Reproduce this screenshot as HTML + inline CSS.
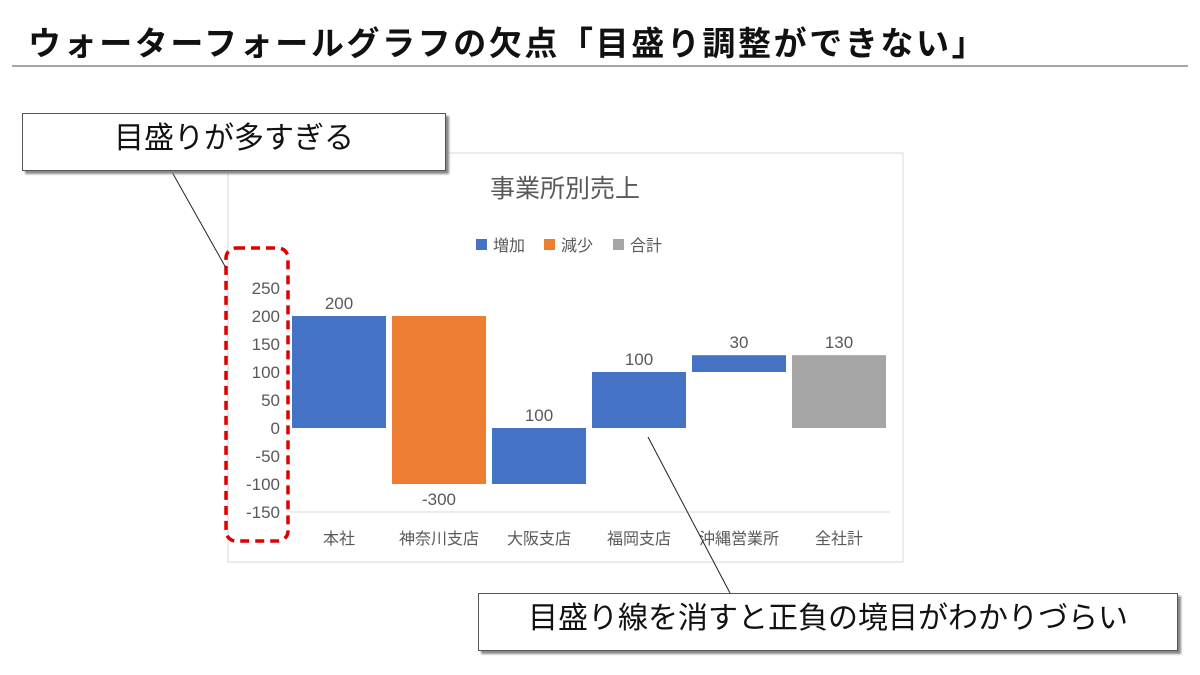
<!DOCTYPE html>
<html><head><meta charset="utf-8"><style>
body{margin:0;width:1200px;height:675px;background:#fff;overflow:hidden;font-family:"Liberation Sans","Noto Sans CJK JP",sans-serif;position:relative}
.h{position:absolute;left:28px;top:17px;font-size:33px;font-weight:bold;color:#111;white-space:nowrap;letter-spacing:2.6px}
.rule{position:absolute;left:12px;top:65px;width:1176px;height:2px;background:#a6a6a6}
.box{position:absolute;background:#fff;border:1px solid #555;box-shadow:3px 3px 2px #888;font-size:30px;color:#111;text-align:center}
</style></head><body>
<div class="h">ウォーターフォールグラフの欠点「目盛り調整ができない」</div>
<div class="rule"></div>
<svg width="1200" height="675" style="position:absolute;left:0;top:0">
<rect x="228" y="153" width="675" height="409" fill="#fff" stroke="#d9d9d9"/>
<text x="565" y="197" font-size="25" fill="#595959" text-anchor="middle">事業所別売上</text>
<g font-size="16" fill="#595959">
<rect x="476" y="239" width="11" height="11" fill="#4472c4"/><text x="493" y="251">増加</text>
<rect x="544" y="239" width="11" height="11" fill="#ed7d31"/><text x="561" y="251">減少</text>
<rect x="613" y="239" width="11" height="11" fill="#a5a5a5"/><text x="630" y="251">合計</text>
</g>
<g id="plot"></g>
<rect x="226" y="248" width="62" height="293" rx="10" fill="none" stroke="#d00" stroke-width="3.5" stroke-dasharray="9,6"/>
<line x1="172" y1="172" x2="226" y2="268" stroke="#222"/>
<line x1="648" y1="437" x2="730" y2="593" stroke="#222"/>
</svg>
<div class="box" style="left:22px;top:113px;width:422px;height:56px;line-height:50px">目盛りが多すぎる</div>
<div class="box" style="left:478px;top:593px;width:698px;height:56px;line-height:50px">目盛り線を消すと正負の境目がわかりづらい</div>
<script>
const categories=["本社","神奈川支店","大阪支店","福岡支店","沖縄営業所","全社計"];
const deltas=[200,-300,100,100,30,130];
const isTotal=[false,false,false,false,false,true];
const ticks=[250,200,150,100,50,0,-50,-100,-150];
const NS="http://www.w3.org/2000/svg";
const g=document.getElementById("plot");
const y=v=>428-v*0.56;
const x0=290,cw=100;
function mk(t,a){const e=document.createElementNS(NS,t);for(const k in a)e.setAttribute(k,a[k]);g.appendChild(e);return e;}
const ax=mk("line",{x1:290,x2:890,y1:y(-150),y2:y(-150),stroke:"#d9d9d9"});


ticks.forEach(t=>{const e=mk("text",{x:280,y:y(t)+6,"font-size":17,fill:"#595959","text-anchor":"end"});e.textContent=t;

});
let cum=0;
categories.forEach((c,i)=>{
  let a,b,d=deltas[i];
  if(isTotal[i]){a=0;b=d;}else{a=cum;b=cum+d;cum=b;}
  const top=Math.max(a,b),bot=Math.min(a,b);
  const col=isTotal[i]?"#a5a5a5":(d<0?"#ed7d31":"#4472c4");
  const r=mk("rect",{x:x0+i*cw+2,y:y(top),width:cw-6,height:y(bot)-y(top),fill:col});
  
  
  const lab=mk("text",{x:x0+i*cw+49,y:d<0?y(bot)+21:y(top)-7,"font-size":17,fill:"#595959","text-anchor":"middle"});
  lab.textContent=d;
  
  
  const cl=mk("text",{x:x0+i*cw+49,y:544,"font-size":16,fill:"#595959","text-anchor":"middle"});
  cl.textContent=c;
  
  
});
</script>
</body></html>
